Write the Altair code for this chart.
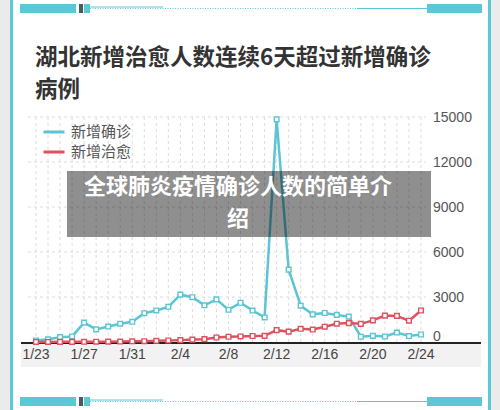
import altair as alt
import pandas as pd

# ---------------- data ----------------
dates = ["1/23", "1/24", "1/25", "1/26", "1/27", "1/28", "1/29", "1/30", "1/31",
         "2/1", "2/2", "2/3", "2/4", "2/5", "2/6", "2/7", "2/8", "2/9", "2/10",
         "2/11", "2/12", "2/13", "2/14", "2/15", "2/16", "2/17", "2/18", "2/19",
         "2/20", "2/21", "2/22", "2/23", "2/24"]
confirmed = [105, 180, 323, 371, 1291, 840, 1032, 1220, 1347,
             1921, 2103, 2345, 3156, 2987, 2447, 2841, 2147, 2618, 2097,
             1638, 14840, 4823, 2420, 1843, 1933, 1807, 1693, 349,
             411, 366, 630, 398, 499]
cured = [3, 5, 10, 10, 15, 20, 25, 30, 45,
         55, 80, 100, 125, 160, 190, 300, 350, 370, 400,
         410, 790, 690, 880, 830, 1020, 1220, 1260, 1210,
         1440, 1760, 1740, 1420, 2100]
series_names = ["新增确诊", "新增治愈"]
series_colors = ["#5BC5D3", "#E0505F"]
x_tick_labels = ["1/23", "1/27", "1/31", "2/4", "2/8", "2/12", "2/16", "2/20", "2/24"]
y_ticks = [0, 3000, 6000, 9000, 12000, 15000]
title_lines = ["湖北新增治愈人数连续6天超过新增确诊", "病例"]
overlay_lines = ["全球肺炎疫情确诊人数的简单介", "绍"]

rows = []
for i, d in enumerate(dates):
    rows.append({"day": i, "date": d, "series": series_names[0], "value": confirmed[i]})
    rows.append({"day": i, "date": d, "series": series_names[1], "value": cured[i]})
df = pd.DataFrame(rows)
days_df = pd.DataFrame({"day": list(range(len(dates)))})
xt_df = pd.DataFrame({"day": [dates.index(t) for t in x_tick_labels], "label": x_tick_labels})
yt_df = pd.DataFrame({"v": y_ticks[1:], "label": [str(v) for v in y_ticks[1:]]})
y0_df = pd.DataFrame({"v": [0], "label": ["0"]})
one = pd.DataFrame({"k": [0]})

xs = alt.Scale(domain=[0, 32], range=[36, 421])
ys = alt.Scale(domain=[0, 15000], range=[342, 117])

CYAN = "#5BC8D6"
CJK = "Noto Sans CJK SC"


def rect(x1, x2, y1, y2, color, **kw):
    return alt.Chart(one).mark_rect(color=color, **kw).encode(
        x=alt.value(x1), x2=alt.value(x2), y=alt.value(y1), y2=alt.value(y2))


def hline(x1, x2, y, color, width=1, dash=None):
    kw = {"color": color, "strokeWidth": width}
    if dash:
        kw["strokeDash"] = dash
    return alt.Chart(one).mark_rule(**kw).encode(
        x=alt.value(x1), x2=alt.value(x2), y=alt.value(y))


def text(s, x, y, **kw):
    return alt.Chart(one).mark_text(text=s, **kw).encode(x=alt.value(x), y=alt.value(y))


# ---------------- frame decoration ----------------
deco = [
    rect(0, 500, 0, 410, "#ffffff"),
    rect(0, 10, 0, 410, "#ebebeb"),
    rect(491, 500, 0, 410, "#ebebeb"),
    rect(10, 13, 0, 410, CYAN),
    rect(488, 491, 0, 410, CYAN),
]
for top in (4, 397):
    deco += [
        hline(90, 427, top + 4.5, CYAN, 1, [1, 1.5]),
        hline(90, 163, top + 3, CYAN, 1),
        hline(357, 427, top + 4.5, CYAN, 1),
        rect(20, 76, top, top + 9, CYAN),
        rect(79, 83, top, top + 9, "#4a5a5e"),
        rect(84, 90, top, top + 9, CYAN),
        rect(427, 482, top, top + 9, CYAN),
    ]

# ---------------- title ----------------
titles = [
    text(title_lines[0], 35, 64.5, align="left", baseline="alphabetic", fontSize=22.5,
         fontWeight="bold", font=CJK, color="#333333"),
    text(title_lines[1], 35, 97, align="left", baseline="alphabetic", fontSize=22.5,
         fontWeight="bold", font=CJK, color="#333333"),
]

# ---------------- grid & axes ----------------
vgrid = alt.Chart(days_df).mark_rule(color="#dddddd", strokeWidth=1, strokeDash=[3, 3]).encode(
    x=alt.X("day:Q", scale=xs, axis=None),
    y=alt.value(117),
    y2=alt.value(342),
)
hgrid = alt.Chart(yt_df).mark_rule(color="#dddddd", strokeWidth=1, strokeDash=[3, 3]).encode(
    y=alt.Y("v:Q", scale=ys, axis=None),
    x=alt.value(28), x2=alt.value(426),
)
band = rect(21, 481, 344, 367, "#f2f2f2")
baseline = hline(21, 481, 343, "#222222", 2)

xlabels = alt.Chart(xt_df).mark_text(fontSize=14, font="Liberation Sans", color="#444444",
                                     baseline="middle", align="center").encode(
    x=alt.X("day:Q", scale=xs, axis=None), y=alt.value(355), text="label:N")
ylabels = alt.Chart(yt_df).mark_text(fontSize=14, font="Liberation Sans", color="#555555",
                                     baseline="middle", align="left", dy=1).encode(
    y=alt.Y("v:Q", scale=ys, axis=None), x=alt.value(433), text="label:N")
ylabel0 = alt.Chart(y0_df).mark_text(fontSize=14, font="Liberation Sans", color="#555555",
                                     baseline="middle", align="left", dy=-5).encode(
    y=alt.Y("v:Q", scale=ys, axis=None), x=alt.value(433), text="label:N")

# ---------------- series ----------------
color_scale = alt.Scale(domain=series_names, range=series_colors)
lines = alt.Chart(df).mark_line(strokeWidth=2.5).encode(
    x=alt.X("day:Q", scale=xs, axis=None),
    y=alt.Y("value:Q", scale=ys, axis=None),
    color=alt.Color("series:N", scale=color_scale,
                    legend=alt.Legend(orient="none", legendX=42, legendY=120, title=None,
                                      symbolType="stroke", symbolStrokeWidth=3, symbolSize=441,
                                      labelFontSize=15, labelColor="#555555", labelFont=CJK,
                                      rowPadding=0, labelOffset=5, padding=0)),
)
points = alt.Chart(df).mark_point(shape="square", size=22, fill="white", fillOpacity=1,
                                  strokeWidth=1.4, opacity=1).encode(
    x=alt.X("day:Q", scale=xs, axis=None),
    y=alt.Y("value:Q", scale=ys, axis=None),
    stroke=alt.Stroke("series:N", scale=color_scale, legend=None),
)

# ---------------- overlay caption ----------------
overlay = [
    rect(67, 431, 171, 237, "#000000", opacity=0.44),
    text(overlay_lines[0], 238, 187, align="center", baseline="middle", fontSize=22,
         fontWeight="bold", font=CJK, color="#ffffff"),
    text(overlay_lines[1], 238, 219, align="center", baseline="middle", fontSize=22,
         fontWeight="bold", font=CJK, color="#ffffff"),
]

chart = alt.layer(
    *deco, *titles, vgrid, hgrid, band, baseline, xlabels, ylabels, ylabel0,
    lines, points, *overlay
).properties(
    width=500, height=410, autosize="none", padding=0, background="#ffffff"
).configure_view(stroke=None)

chart.save("out.html", embed_options={"renderer": "svg", "actions": False})
